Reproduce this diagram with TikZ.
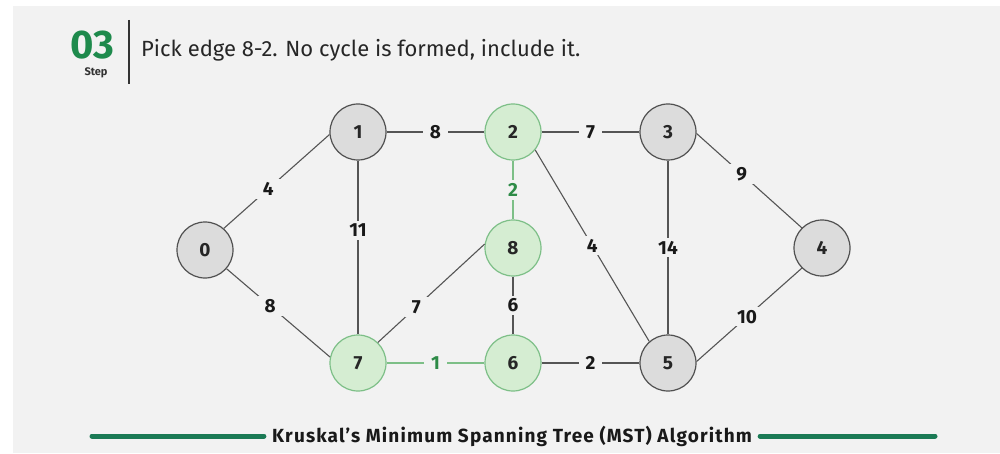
\documentclass[tikz,border=0pt]{standalone}
\usepackage{fontspec}
\setmainfont{Fira Sans}
\newfontfamily\titlefont[LetterSpace=6.0]{Fira Sans}
\definecolor{bgc}{HTML}{F2F2F2}
\definecolor{edgec}{HTML}{555555}
\definecolor{grayfill}{HTML}{DCDCDC}
\definecolor{grayline}{HTML}{505050}
\definecolor{greenfill}{HTML}{D5EDD2}
\definecolor{greenline}{HTML}{7DBF87}
\definecolor{greentext}{HTML}{2E8B47}
\definecolor{stepgreen}{HTML}{1E8A4C}
\definecolor{bargreen}{HTML}{1B7A55}
\begin{document}
\begin{tikzpicture}[x=1pt,y=-1pt,
  vtx/.style={circle,draw=grayline,line width=1.2pt,fill=grayfill,minimum size=56pt,inner sep=0pt,
    font=\fontsize{19}{19}\selectfont\bfseries,text=black!85},
  vtxin/.style={vtx,draw=greenline,fill=greenfill},
  wedge/.style={draw=edgec,line width=1.1pt},
  wedgein/.style={draw=greenline,line width=1.3pt},
  wlab/.style={fill=bgc,inner xsep=7pt,inner ysep=3pt,font=\fontsize{19}{19}\selectfont\bfseries,text=black!90},
  wlabin/.style={wlab,text=greentext}]
\useasboundingbox (0,0) rectangle (1000,454);
\fill[white] (0,0) rectangle (1000,454);
\fill[bgc] (13,6) rectangle (1000,453);

% header
\node[font=\fontsize{40}{40}\selectfont\bfseries,text=stepgreen,inner sep=0pt] (num) at (92,45) {03};
\node[font=\fontsize{11}{11}\selectfont\bfseries,text=black!80,inner sep=0pt] (steplbl) at (96,73) {Step};
\coordinate (sepTop) at (129,20);
\coordinate (sepBot) at (129,84);
\draw[line width=1.6pt,black!80] (sepTop) -- (sepBot);
\node[anchor=west,font=\fontsize{22}{22}\selectfont,text=black!85,inner sep=0pt] (head) at (141,50) {Pick edge 8-2. No cycle is formed, include it.};

% vertices
\node[vtx]   (v0) at (205,250) {0};
\node[vtx]   (v1) at (358,132) {1};
\node[vtxin] (v2) at (513,132) {2};
\node[vtx]   (v3) at (668,132) {3};
\node[vtx]   (v4) at (822,248) {4};
\node[vtx]   (v5) at (668,363) {5};
\node[vtxin] (v6) at (513,363) {6};
\node[vtxin] (v7) at (358,363) {7};
\node[vtxin] (v8) at (513,248) {8};

% weighted edges
\draw[wedge] (v0.49) -- node[wlab,pos=0.42] {4} (v1.185);
\draw[wedge] (v0.-41) -- node[wlab,pos=0.42] {8} (v7.168);
\draw[wedge] (v1) -- node[wlab] {8} (v2);
\draw[wedge] (v1) -- node[wlab,pos=0.4] {11} (v7);
\draw[wedge] (v2) -- node[wlab] {7} (v3);
\draw[wedge] (v2.-39) -- node[wlab,pos=0.5] {4} (v5.131);
\draw[wedgein] (v2) -- node[wlabin] {2} (v8);
\draw[wedge] (v7.46) -- node[wlab,pos=0.36] {7} (v8.172);
\draw[wedge] (v8) -- node[wlab] {6} (v6);
\draw[wedgein] (v7) -- node[wlabin] {1} (v6);
\draw[wedge] (v6) -- node[wlab] {2} (v5);
\draw[wedge] (v3) -- node[wlab] {14} (v5);
\draw[wedge] (v3.-3) -- node[wlab,pos=0.43] {9} (v4.135);
\draw[wedge] (v5.3) -- node[wlab,pos=0.48] {10} (v4.225);

% footer
\node[font=\fontsize{19}{19}\titlefont\bfseries,text=black!90,inner sep=0pt] (title) at (512,436) {Kruskal’s Minimum Spanning Tree (MST) Algorithm};
\coordinate (barL) at (92,436);
\coordinate (barR) at (935,436);
\draw[bargreen,line width=5pt,line cap=round] (barL) -- ([xshift=-8pt]title.west);
\draw[bargreen,line width=5pt,line cap=round] ([xshift=8pt]title.east) -- (barR);
\end{tikzpicture}
\end{document}
